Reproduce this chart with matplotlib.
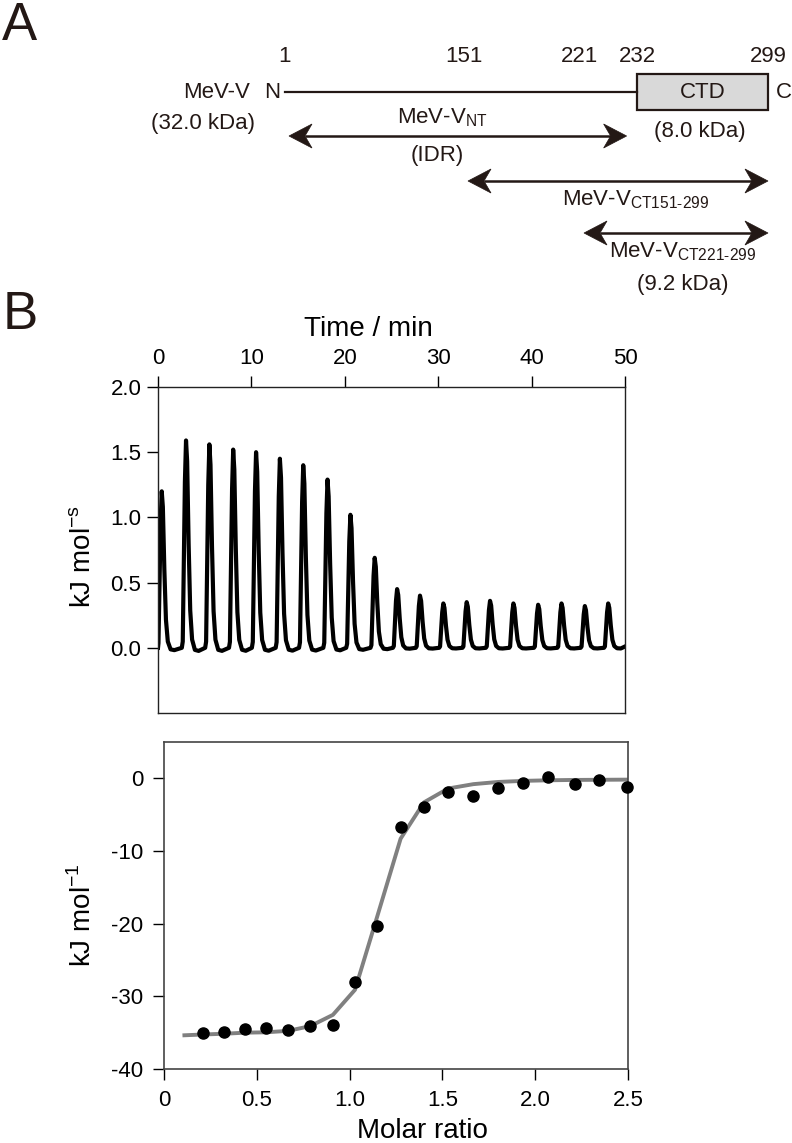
import numpy as np
import matplotlib
matplotlib.use("Agg")
import matplotlib.pyplot as plt
from matplotlib.patches import Polygon, Rectangle

plt.rcParams['font.family'] = ['Liberation Sans', 'DejaVu Sans']
plt.rcParams['mathtext.fontset'] = 'custom'
plt.rcParams['mathtext.rm'] = 'Liberation Sans'
plt.rcParams['axes.unicode_minus'] = False

# ---- data ----
# panel A: residue boundaries and constructs
residues = [1, 151, 221, 232, 299]
ctd_range = (232, 299)
constructs = [
    ("MeV-V$_{\\mathregular{NT}}$", 1, 230),
    ("MeV-V$_{\\mathregular{CT151\u2011299}}$", 151, 299),
    ("MeV-V$_{\\mathregular{CT221\u2011299}}$", 221, 299),
]

# panel B top: injection peaks of the raw thermogram
peak_times = [0.4, 3.0, 5.5, 8.05, 10.5, 13.05, 15.55, 18.15, 20.6, 23.2,
              25.6, 28.05, 30.55, 33.05, 35.55, 38.05, 40.7, 43.2, 45.7, 48.2]
peak_heights = [1.20, 1.59, 1.56, 1.52, 1.50, 1.45, 1.40, 1.29, 1.02, 0.69,
                0.45, 0.40, 0.34, 0.35, 0.36, 0.34, 0.33, 0.34, 0.32, 0.34]
# peak profile (min after peak, fraction of height)
shape_dt = [-0.45, -0.35, -0.12, 0.0, 0.12, 0.28, 0.45, 0.65, 0.95, 1.35]
shape_frac = [0.0, 0.03, 0.8, 1.0, 0.9, 0.5, 0.18, 0.04, -0.01, -0.015]

# panel B bottom: integrated heats and fit
molar_ratio = [0.212, 0.324, 0.437, 0.550, 0.669, 0.788, 0.910, 1.029, 1.149,
               1.275, 1.401, 1.531, 1.667, 1.799, 1.935, 2.070, 2.212, 2.345, 2.496]
heat = [-35.1, -34.85, -34.5, -34.35, -34.7, -34.1, -33.9, -28.0, -20.3,
        -6.7, -4.0, -1.9, -2.5, -1.3, -0.6, 0.2, -0.8, -0.2, -1.15]
fit_x = [0.11, 0.212, 0.324, 0.437, 0.550, 0.669, 0.788, 0.910, 1.029, 1.149,
         1.275, 1.401, 1.531, 1.667, 1.799, 1.935, 2.070, 2.212, 2.345, 2.496]
fit_y = [-35.36, -35.25, -35.15, -35.0, -34.95, -34.75, -34.1, -32.55, -29.1,
         -19.0, -8.3, -3.3, -1.4, -0.8, -0.5, -0.35, -0.27, -0.22, -0.2, -0.18]

# ---- figure ----
W, H = 792, 1143
fig = plt.figure(figsize=(W / 100, H / 100), dpi=100)
dark = '#231815'

# panel A in pixel units
axA = fig.add_axes([0, 1 - 300 / H, 1, 300 / H])
axA.set_xlim(0, W)
axA.set_ylim(300, 0)
axA.axis('off')

res_px = [285, 464, 580, 637, 768]   # layout of residue positions along the bar


def rx(r):
    return np.interp(r, residues, res_px)


def double_arrow(ax, x0, x1, y, L=23, w=12, notch=16):
    ax.plot([x0 + notch, x1 - notch], [y, y], color=dark, lw=1.8, solid_capstyle='butt')
    for tip, d in ((x0, 1), (x1, -1)):
        pts = [(tip, y), (tip + d * L, y - w), (tip + d * notch, y), (tip + d * L, y + w)]
        ax.add_patch(Polygon(pts, closed=True, fc=dark, ec=dark, lw=0.5))


fs = 16
bar_y = 92
for r in residues:
    axA.text(rx(r), 57, str(r), ha='center', va='center', fontsize=fs, color=dark)
axA.plot([rx(1), rx(ctd_range[0])], [bar_y, bar_y], color=dark, lw=1.6)
axA.add_patch(Rectangle((rx(ctd_range[0]), 74), rx(ctd_range[1]) - rx(ctd_range[0]), 36,
                        fc='#d9d9d9', ec=dark, lw=1.6))
axA.text((rx(ctd_range[0]) + rx(ctd_range[1])) / 2, bar_y, 'CTD', ha='center', va='center',
         fontsize=fs, color=dark)
axA.text(272, bar_y, 'N', ha='center', va='center', fontsize=fs, color=dark)
axA.text(784, bar_y, 'C', ha='center', va='center', fontsize=fs, color=dark)
axA.text(250, bar_y, 'MeV-V', ha='right', va='center', fontsize=fs, color=dark)
axA.text(203, 123, '(32.0 kDa)', ha='center', va='center', fontsize=fs, color=dark)
axA.text(700, 132, '(8.0 kDa)', ha='center', va='center', fontsize=fs, color=dark)

arrow_y = [136, 181, 233]
label_pos = [(442, 118), (636, 200), (683, 252)]
for (name, r0, r1), ay, (lx, ly) in zip(constructs, arrow_y, label_pos):
    double_arrow(axA, rx(r0) + 4, rx(r1), ay)
    axA.text(lx, ly, name, ha='center', va='center', fontsize=fs, color=dark)
axA.text(437, 155, '(IDR)', ha='center', va='center', fontsize=fs, color=dark)
axA.text(683, 284, '(9.2 kDa)', ha='center', va='center', fontsize=fs, color=dark)

fig.text(0.003, 1 - 1 / H, 'A', fontsize=38, va='top', ha='left', color=dark)
fig.text(0.003, 1 - 290 / H, 'B', fontsize=38, va='top', ha='left', color=dark)

# raw thermogram trace
t = [0.0]
p = [0.0]
for tp, hp in zip(peak_times, peak_heights):
    for dt, fr in zip(shape_dt, shape_frac):
        if tp + dt > t[-1]:
            t.append(tp + dt)
            p.append(hp * fr)
t.append(50.0)
p.append(0.01)

ax1 = fig.add_axes([158 / W, 1 - 713 / H, 467 / W, 326 / H])
ax1.plot(t, p, color='black', lw=3.0, solid_joinstyle='round')
ax1.set_xlim(0, 50)
ax1.set_ylim(-0.5, 2.0)
ax1.xaxis.tick_top()
ax1.xaxis.set_label_position('top')
ax1.set_xticks([0, 10, 20, 30, 40, 50])
ax1.set_yticks([0, 0.5, 1.0, 1.5, 2.0])
ax1.set_yticklabels(['0.0', '0.5', '1.0', '1.5', '2.0'])
ax1.tick_params(axis='x', top=True, bottom=False, direction='out', length=8, width=1.0,
                labelsize=16, pad=5)
ax1.tick_params(axis='y', left=True, right=False, direction='out', length=8, width=1.0,
                labelsize=16, pad=4)
ax1.set_xlabel('Time / min', fontsize=20)
ax1.xaxis.set_label_coords(0.45, 1.155)
ax1.set_ylabel('kJ mol$^{\\mathregular{-s}}$', fontsize=20)
ax1.yaxis.set_label_coords(-0.13, 0.48)
for s in ax1.spines.values():
    s.set_linewidth(1.0)
    s.set_color('#222222')

# integrated heats
ax2 = fig.add_axes([164 / W, 1 - 1069 / H, 464 / W, 327 / H])
ax2.plot(fit_x, fit_y, color='#808080', lw=2.8, zorder=2)
ax2.plot(molar_ratio, heat, 'o', color='black', ms=8, zorder=3, clip_on=False)
ax2.set_xlim(0, 2.5)
ax2.set_ylim(-40, 5)
ax2.set_xticks([0, 0.5, 1.0, 1.5, 2.0, 2.5])
ax2.set_xticklabels(['0', '0.5', '1.0', '1.5', '2.0', '2.5'])
ax2.set_yticks([0, -10, -20, -30, -40])
ax2.tick_params(axis='both', direction='out', length=8, width=1.0, labelsize=16, pad=7)
ax2.tick_params(axis='x', top=False)
ax2.tick_params(axis='y', right=False)
ax2.set_xlabel('Molar ratio', fontsize=20)
ax2.xaxis.set_label_coords(0.558, -0.15)
ax2.set_ylabel('kJ mol$^{\\mathregular{-1}}$', fontsize=20)
ax2.yaxis.set_label_coords(-0.145, 0.47)
for s in ax2.spines.values():
    s.set_linewidth(1.2)
    s.set_color('#444444')

fig.savefig('out.png', dpi=100)
